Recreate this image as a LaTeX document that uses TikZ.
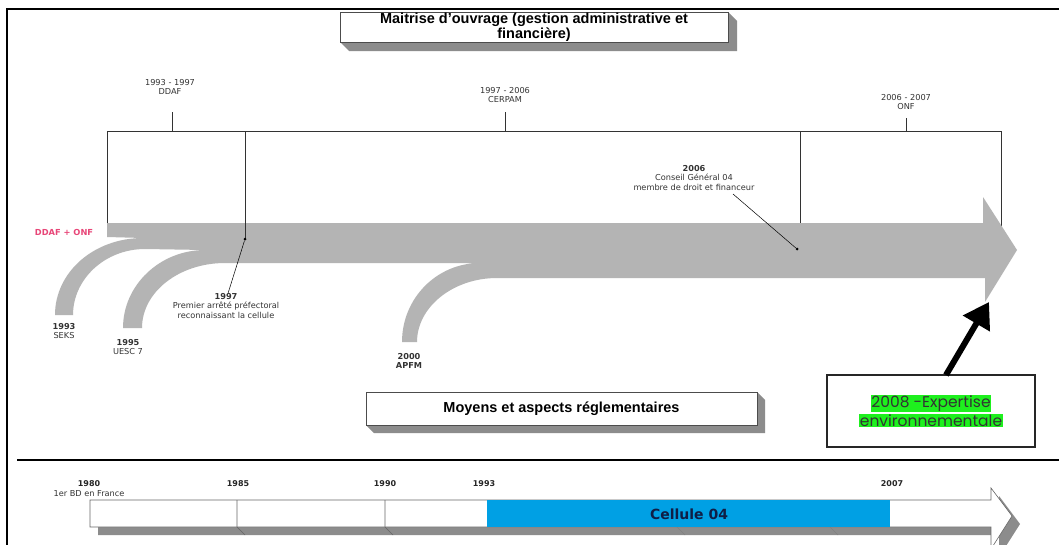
\documentclass[tikz,border=0pt]{standalone}
\usepackage{fontspec}
\setmainfont{Liberation Sans}
\newfontfamily\dv{DejaVu Sans}
\newfontfamily\pop{Poppins}
\usetikzlibrary{arrows.meta}
\definecolor{arrowgrey}{RGB}{180,180,180}
\definecolor{boxshade}{RGB}{140,140,140}
\definecolor{pinkred}{RGB}{232,70,120}
\definecolor{cellblue}{RGB}{0,160,228}
\definecolor{navy}{RGB}{15,30,70}
\definecolor{hlgreen}{RGB}{30,240,30}
\begin{document}
\begin{tikzpicture}[x=1pt,y=-1pt,
  lbl/.style={font=\dv\fontsize{8.2}{9.3}\selectfont, align=center, inner sep=0pt, text=black!80},
  yr/.style={font=\dv\bfseries\fontsize{8}{9}\selectfont, inner sep=0pt, text=black!85},
  tline/.style={draw=black!80, line width=0.6pt},
  titlebox/.style={draw=black!70, fill=white, line width=0.8pt, font=\bfseries\fontsize{14.5}{15}\selectfont, align=center, inner sep=0pt},
  dotmark/.style={fill=black, circle, inner sep=0pt, minimum size=3pt}]
\useasboundingbox (0,0) rectangle (1059,544);
\fill[white] (0,0) rectangle (1059,544);

% frame
\draw[line width=2pt] (7,545) -- (7,8.5) -- (1060,8.5);
\draw[line width=2.5pt] (17,460) -- (1060,460);

% top title box
\fill[boxshade] (340,42) -- (349,51) -- (737,51) -- (737,21) -- (728,12) -- (728,42) -- cycle;
\node[titlebox, minimum width=388pt, minimum height=30pt] (mo) at (534,27) {Maitrise d'ouvrage (gestion administrative et\\financière)};

% middle title box
\fill[boxshade] (366,425) -- (374,433) -- (765,433) -- (765,400) -- (757,392) -- (757,425) -- cycle;
\node[titlebox, minimum width=391pt, minimum height=33pt] (moy) at (561.5,408.5) {Moyens et aspects réglementaires};

% period labels
\node[lbl] (ddaf) at (170,87) {1993 - 1997\\DDAF};
\node[lbl] (cerpam) at (505,95) {1997 - 2006\\CERPAM};
\node[lbl] (onf) at (906,102) {2006 - 2007\\ONF};
\coordinate (t1a) at (172,112); \coordinate (t1b) at (172,131);
\coordinate (t2a) at (505,112); \coordinate (t2b) at (505,131);
\coordinate (t3a) at (906,118); \coordinate (t3b) at (906,131);
\draw[tline] (t1a) -- (t1b);
\draw[tline] (t2a) -- (t2b);
\draw[tline] (t3a) -- (t3b);

% frame lines of periods
\coordinate (pA) at (107,131); \coordinate (pB) at (1001,131);
\draw[tline] (pA) -- (pB);
\draw[tline] (107,131) -- (107,224);
\draw[tline] (800,131) -- (800,224);
\draw[tline] (1001,131) -- (1001,226);

% big grey arrow with merging arcs
\fill[arrowgrey] (107,223) -- (983,223) -- (983,197) -- (1017,250) -- (985,302) -- (985,278) -- (497,278)
  .. controls (453,278) and (417,307) .. (417,342) -- (402,342)
  .. controls (402,298) and (437,263) .. (480,263) -- (225,263)
  .. controls (179,263) and (142,292) .. (142,328) -- (123,328)
  .. controls (123,285) and (160,250) .. (205,250) -- (145,249)
  .. controls (105,249) and (73,279) .. (73,315) -- (55,315)
  .. controls (55,272) and (94,238) .. (143,238) -- (107,237) -- cycle;

\draw[tline] (245,131) -- (245,239);

% events
\node[text=pinkred, font=\dv\bfseries\fontsize{8.3}{9}\selectfont, inner sep=0pt] (ddafonf) at (64,232) {DDAF + ONF};
\node[lbl] (seks) at (64,331) {\textbf{1993}\\SEKS};
\node[lbl] (uesc) at (128,347) {\textbf{1995}\\UESC 7};
\node[lbl] (apfm) at (409,361) {\textbf{2000}\\\textbf{APFM}};
\node[lbl] (arrete) at (226,306) {\textbf{1997}\\Premier arrêté préfectoral\\reconnaissant la cellule};
\node[lbl] (cg) at (694,178) {\textbf{2006}\\Conseil Général 04\\membre de droit et financeur};
\node[dotmark] (d1) at (245,239) {};
\node[dotmark] (d2) at (797,249) {};
\draw[line width=0.5pt] (arrete.north) ++(2,0) coordinate (a1) (a1) -- (d1);
\draw[line width=0.5pt] (733,194) coordinate (a2) (a2) -- (d2);

% expertise box and black arrow
\node[draw=black!85, line width=1.3pt, minimum width=208pt, minimum height=72pt, inner sep=0pt,
      font=\pop\fontsize{15.5}{21}\selectfont, align=center, text=black!80] (exp) at (931,411)
  {\setlength{\fboxsep}{0.8pt}\colorbox{hlgreen}{2008 -Expertise}\\[-2pt]\setlength{\fboxsep}{0.8pt}\colorbox{hlgreen}{environnementale}};
\coordinate (btail) at (946,375);
\coordinate (btip) at (989,302);
\draw[line width=6pt, -{Triangle[length=25pt,width=30pt]}] (btail) -- (btip);

% bottom timeline bar
\begin{scope}[shift={(8,8)}]
\fill[boxshade] (90,500) -- (991,500) -- (991,488) -- (1012,516) -- (991,549) -- (991,527) -- (90,527) -- cycle;
\end{scope}
\draw[black!60, fill=white, line width=0.6pt] (90,500) -- (991,500) -- (991,488) -- (1012,516) -- (991,549) -- (991,527) -- (90,527) -- cycle;
\fill[cellblue] (487,500.3) rectangle (890,526.7);
\draw[black!60, line width=0.6pt] (237,500) -- (237,527) -- (245,535);
\draw[black!60, line width=0.6pt] (385,500) -- (385,527) -- (393,535);
\draw[black!50, line width=0.5pt] (677,527) -- (685,535);
\draw[black!50, line width=0.5pt] (830,527) -- (838,535);
\node[font=\dv\bfseries\fontsize{14}{15}\selectfont, text=navy, inner sep=0pt] (cell) at (689,514) {Cellule 04};
\node[yr] (y80) at (89,484) {1980};
\node[lbl] (bd) at (89,494) {1er BD en France};
\node[yr] (y85) at (238,484) {1985};
\node[yr] (y90) at (385,484) {1990};
\node[yr] (y93) at (484,484) {1993};
\node[yr] (y07) at (892,484) {2007};
\end{tikzpicture}
\end{document}
